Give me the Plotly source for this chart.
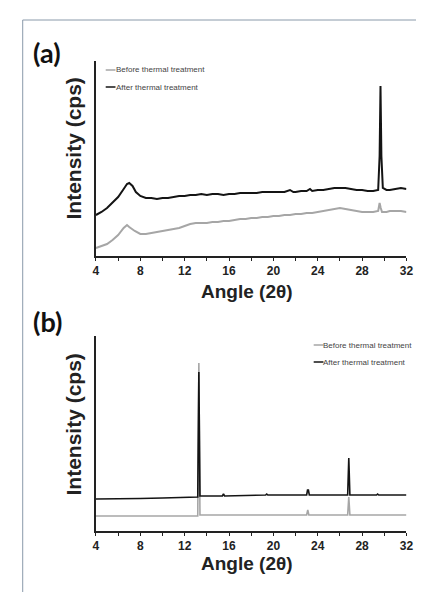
import plotly.graph_objects as go

W, H = 424, 592

# ---------- Panel (a) data ----------
a_after_x = [4.0, 4.5, 5.0, 5.5, 6.0, 6.5, 6.8, 7.0, 7.3, 7.6, 8.0, 8.5, 9.0, 9.5, 10.0, 10.5, 11.0, 11.5,
             12.0, 12.5, 13.0, 13.5, 14.0, 14.5, 15.0, 15.5, 16.0, 16.5, 17.0, 17.5, 18.0, 18.5, 19.0, 19.5,
             20.0, 20.5, 21.0, 21.5, 21.8, 22.0, 22.5, 23.0, 23.3, 23.5, 24.0, 24.5, 25.0, 25.5, 26.0, 26.5,
             27.0, 27.5, 28.0, 28.5, 29.0, 29.45, 29.58, 29.66, 29.74, 29.87, 30.2, 30.5, 31.0, 31.5, 32.0]
a_after_y = [41, 44, 48, 53, 59, 67, 72, 73, 70, 64, 60, 58, 58, 57, 58, 58, 59, 60,
             60, 61, 61, 62, 61, 62, 62, 61, 62, 62, 63, 63, 63, 63, 64, 64,
             64, 64, 64, 66, 64, 64, 65, 65, 67, 65, 66, 66, 67, 68, 68, 68,
             67, 66, 66, 65, 65, 66, 100, 170, 100, 68, 66, 66, 67, 68, 67]

a_before_x = [4.0, 4.5, 5.0, 5.5, 6.0, 6.5, 6.8, 7.0, 7.5, 8.0, 8.5, 9.0, 9.5, 10.0, 10.5, 11.0, 11.5,
              12.0, 12.5, 13.0, 13.5, 14.0, 14.5, 15.0, 15.5, 16.0, 16.5, 17.0, 17.5, 18.0, 18.5, 19.0, 19.5,
              20.0, 20.5, 21.0, 21.5, 22.0, 22.5, 23.0, 23.5, 24.0, 24.5, 25.0, 25.5, 26.0, 26.5,
              27.0, 27.5, 28.0, 28.5, 29.0, 29.45, 29.58, 29.68, 29.8, 30.2, 30.5, 31.0, 31.5, 32.0]
a_before_y = [8, 10, 12, 16, 21, 28, 31, 29, 25, 22, 22, 23, 24, 25, 26, 27, 28,
              30, 32, 33, 33, 33, 34, 34, 35, 35, 36, 37, 37, 38, 38, 39, 39,
              40, 40, 41, 41, 42, 42, 43, 43, 44, 45, 46, 47, 48, 47,
              46, 45, 44, 44, 44, 45, 53, 48, 44, 44, 45, 45, 45, 44]

# ---------- Panel (b) data ----------
b_after_x = [4.0, 6.0, 8.0, 10.0, 12.0, 13.18, 13.28, 13.38, 15.4, 15.5, 15.6, 19.3, 19.4, 19.5,
             23.0, 23.08, 23.16, 23.24, 26.7, 26.8, 26.9, 29.3, 29.4, 29.5, 32.0]
b_after_y = [32, 32, 32.5, 33, 33.5, 34, 159, 35, 35, 37, 35, 36, 37, 36,
             36, 41, 41, 36, 36, 73, 36, 36, 37, 36, 36]

b_before_x = [4.0, 8.0, 12.0, 13.18, 13.28, 13.38, 20.0, 23.0, 23.1, 23.2,
              26.7, 26.8, 26.9, 32.0]
b_before_y = [15, 15, 15, 15, 168, 16, 16, 16, 21, 16,
              16, 34, 16, 16]

legend_labels = ["Before thermal treatment", "After thermal treatment"]

BLACK = "#141414"
GRAY = "#a6a6a6"

def px_x(p):
    return p / W

def px_y(p):
    return 1 - p / H

fig = go.Figure()
fig.add_trace(go.Scatter(x=a_before_x, y=a_before_y, mode="lines", line=dict(color=GRAY, width=2),
                         xaxis="x", yaxis="y", showlegend=False))
fig.add_trace(go.Scatter(x=a_after_x, y=a_after_y, mode="lines", line=dict(color=BLACK, width=2),
                         xaxis="x", yaxis="y", showlegend=False))
fig.add_trace(go.Scatter(x=b_before_x, y=b_before_y, mode="lines", line=dict(color=GRAY, width=1.6),
                         xaxis="x2", yaxis="y2", showlegend=False))
fig.add_trace(go.Scatter(x=b_after_x, y=b_after_y, mode="lines", line=dict(color=BLACK, width=1.6),
                         xaxis="x2", yaxis="y2", showlegend=False))

xdom = [px_x(87), px_x(405)]
tickfont = dict(family="Arial", size=12, color="#222", weight="bold")
def xax(ticks, labels):
    return dict(domain=xdom, range=[4, 32], tick0=4, dtick=4, ticks=ticks, ticklen=3, tickwidth=1.3,
                tickcolor="#222", showline=True, linecolor="#222", linewidth=1.5, showgrid=False,
                zeroline=False, tickfont=tickfont, showticklabels=labels,
                minor=dict(dtick=2, tick0=4, ticks=ticks, ticklen=3, tickwidth=1.3, tickcolor="#222",
                           showgrid=False))
yax = dict(showline=True, linecolor="#222", linewidth=1.5, showticklabels=False, ticks="",
           showgrid=False, zeroline=False, range=[0, 195])

fig.update_layout(
    width=W, height=H, margin=dict(l=0, r=0, t=0, b=0),
    paper_bgcolor="white", plot_bgcolor="white",
    xaxis=dict(**xax("outside", True), anchor="y"),
    yaxis=dict(**yax, domain=[px_y(248), px_y(53)], anchor="x"),
    xaxis2=dict(**xax("outside", True), anchor="y2"),
    yaxis2=dict(**yax, domain=[px_y(523), px_y(328)], anchor="x2"),
    xaxis3=dict(**xax("inside", False), anchor="y", overlaying="x"),
    xaxis4=dict(**xax("inside", False), anchor="y2", overlaying="x2"),
)

ann = []
shapes = []
# frame
shapes.append(dict(type="line", xref="paper", yref="paper", x0=px_x(12), x1=1, y0=px_y(12), y1=px_y(12),
                   line=dict(color="#8a9aaa", width=1)))
shapes.append(dict(type="line", xref="paper", yref="paper", x0=px_x(12), x1=px_x(12), y0=px_y(12), y1=0,
                   line=dict(color="#8a9aaa", width=1)))

titlefont = dict(family="Arial", size=19, color="#222", weight="bold")
ytitlefont = dict(family="Arial", size=21, color="#222", weight="bold")
for lab, ylab, ytitle, yytitle in [("(a)", 44, 283, 141), ("(b)", 313, 555, 417)]:
    ann.append(dict(text=lab, x=px_x(20), y=px_y(ylab), xref="paper", yref="paper", xanchor="left",
                    yanchor="middle", showarrow=False,
                    font=dict(family="Lato", size=27, color="#111", weight="bold")))
    ann.append(dict(text="Angle (2θ)", x=px_x(242), y=px_y(ytitle), xref="paper", yref="paper",
                    xanchor="center", yanchor="middle", showarrow=False, font=titlefont))
    ann.append(dict(text="Intensity (cps)", x=px_x(63), y=px_y(yytitle), xref="paper", yref="paper",
                    xanchor="center", yanchor="middle", showarrow=False, textangle=-90, font=ytitlefont))

# legends
legfont = dict(family="Arial", size=8, color="#444")
for lx, ly0 in [(97, 62), (310, 337)]:
    for i, (lbl, col) in enumerate(zip(legend_labels, [GRAY, BLACK])):
        yy = ly0 + i * 17
        shapes.append(dict(type="line", xref="paper", yref="paper", x0=px_x(lx), x1=px_x(lx + 10),
                           y0=px_y(yy), y1=px_y(yy), line=dict(color=col, width=1.5)))
        ann.append(dict(text=lbl, x=px_x(lx + 9), y=px_y(yy), xref="paper", yref="paper",
                        xanchor="left", yanchor="middle", showarrow=False, font=legfont,
                        borderpad=0))

fig.update_layout(annotations=ann, shapes=shapes)
fig.write_html("out.html")
